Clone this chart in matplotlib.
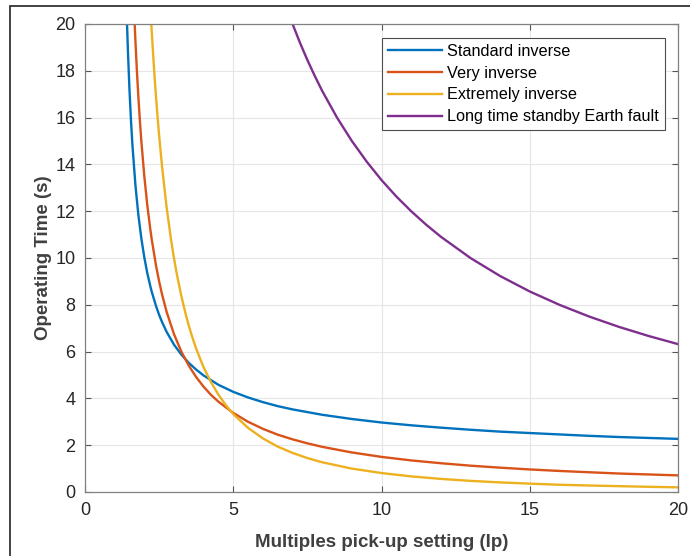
import matplotlib
matplotlib.use("Agg")
import matplotlib.pyplot as plt
from matplotlib.patches import Rectangle

# values
x_si = [1.4175, 1.45, 1.5, 1.55, 1.6, 1.7, 1.8, 1.9, 2.0, 2.1, 2.2, 2.25, 2.4, 2.5, 2.6, 2.75, 3.0,
        3.25, 3.5, 3.75, 4.0, 4.5, 5.0, 5.5, 6.0, 6.5, 7.0, 8.0, 9.0, 10.0, 11.0, 12.0, 13.0,
        14.0, 15.0, 16.0, 17.0, 18.0, 19.0, 20.0]
y_si = [20.0, 18.77, 17.19, 15.90, 14.82, 13.12, 11.84, 10.84, 10.03, 9.36, 8.81, 8.56, 7.93, 7.57,
        7.26, 6.85, 6.30, 5.87, 5.52, 5.23, 4.98, 4.58, 4.28, 4.04, 3.84, 3.67, 3.53, 3.30, 3.12,
        2.97, 2.85, 2.75, 2.66, 2.58, 2.52, 2.46, 2.40, 2.35, 2.31, 2.27]

x_vi = [1.675, 1.7, 1.75, 1.8, 1.85, 1.9, 2.0, 2.1, 2.2, 2.25, 2.4, 2.5, 2.6, 2.75, 3.0, 3.25, 3.5,
        3.75, 4.0, 4.25, 4.5, 5.0, 5.5, 6.0, 6.5, 7.0, 7.5, 8.0, 9.0, 10.0, 11.0, 12.0, 13.0,
        14.0, 15.0, 16.0, 17.0, 18.0, 19.0, 20.0]
y_vi = [20.0, 19.29, 18.0, 16.88, 15.88, 15.0, 13.5, 12.27, 11.25, 10.8, 9.64, 9.0, 8.44, 7.71,
        6.75, 6.0, 5.4, 4.91, 4.5, 4.15, 3.86, 3.38, 3.0, 2.7, 2.45, 2.25, 2.08, 1.93, 1.69, 1.5,
        1.35, 1.23, 1.125, 1.04, 0.964, 0.9, 0.844, 0.79, 0.75, 0.71]

x_ei = [2.236, 2.3, 2.35, 2.4, 2.45, 2.5, 2.6, 2.75, 2.9, 3.0, 3.1, 3.25, 3.4, 3.5, 3.6, 3.75,
        4.0, 4.25, 4.5, 4.75, 5.0, 5.5, 6.0, 6.5, 7.0, 7.5, 8.0, 9.0, 10.0, 11.0, 12.0, 13.0,
        14.0, 15.0, 16.0, 17.0, 18.0, 19.0, 20.0]
y_ei = [20.0, 18.65, 17.69, 16.81, 15.99, 15.24, 13.89, 12.19, 10.80, 10.0, 9.29, 8.37, 7.58,
        7.11, 6.69, 6.12, 5.33, 4.69, 4.16, 3.71, 3.33, 2.74, 2.29, 1.94, 1.67, 1.45, 1.27, 1.0,
        0.81, 0.667, 0.56, 0.476, 0.41, 0.357, 0.31, 0.278, 0.25, 0.222, 0.20]

x_lt = [7.0, 7.25, 7.5, 7.75, 8.0, 8.5, 9.0, 9.5, 10.0, 10.5, 11.0, 11.5, 12.0, 13.0, 14.0, 15.0,
        16.0, 17.0, 18.0, 19.0, 20.0]
y_lt = [20.0, 19.2, 18.46, 17.78, 17.14, 16.0, 15.0, 14.12, 13.33, 12.63, 12.0, 11.43, 10.91,
        10.0, 9.23, 8.57, 8.0, 7.5, 7.06, 6.67, 6.32]

labels = ["Standard inverse", "Very inverse", "Extremely inverse", "Long time standby Earth fault"]
colors = ["#0072bd", "#d95319", "#edb120", "#7e2f8e"]

plt.rcParams['font.family'] = ['Liberation Sans', 'DejaVu Sans']

fig = plt.figure(figsize=(6.9, 5.56), dpi=100)
ax = fig.add_axes([85 / 690, 1 - 492 / 556, 593 / 690, 468 / 556])

for xs, ys, lab, c in zip([x_si, x_vi, x_ei, x_lt], [y_si, y_vi, y_ei, y_lt], labels, colors):
    ax.plot(xs, ys, color=c, lw=1.7, label=lab)

ax.set_xlim(0, 20)
ax.set_ylim(0, 20)
ax.set_xticks([0, 5, 10, 15, 20])
ax.set_yticks(range(0, 21, 2))
ax.grid(True, color="#e6e6e6", lw=0.8)
ax.set_axisbelow(True)
ax.tick_params(direction="in", top=True, right=True, length=4, width=0.8,
               color="#555555", labelcolor="#262626", labelsize=13, pad=7)
for s in ax.spines.values():
    s.set_color("#808080")
    s.set_linewidth(0.9)

ax.set_xlabel("Multiples pick-up setting (Ip)", fontsize=13.5, fontweight="bold", color="#404040",
              labelpad=11)
ax.set_ylabel("Operating Time (s)", fontsize=13.5, fontweight="bold", color="#404040", labelpad=2)

leg = ax.legend(loc="upper right", bbox_to_anchor=(0.9775, 0.970), fontsize=11.7, fancybox=False,
                framealpha=1, edgecolor="#4d4d4d", handlelength=3.3, borderaxespad=0,
                labelspacing=0.42, handletextpad=0.35, borderpad=0.35)
leg.get_frame().set_linewidth(0.8)

# outer figure frame (cut off at right and bottom in the reference)
fig.patches.append(Rectangle((10 / 690, -0.05), 1.2, 1 - 6 / 556 + 0.05, transform=fig.transFigure,
                             fill=False, edgecolor="#222222", lw=1.2))

fig.savefig("out.png", dpi=100)
